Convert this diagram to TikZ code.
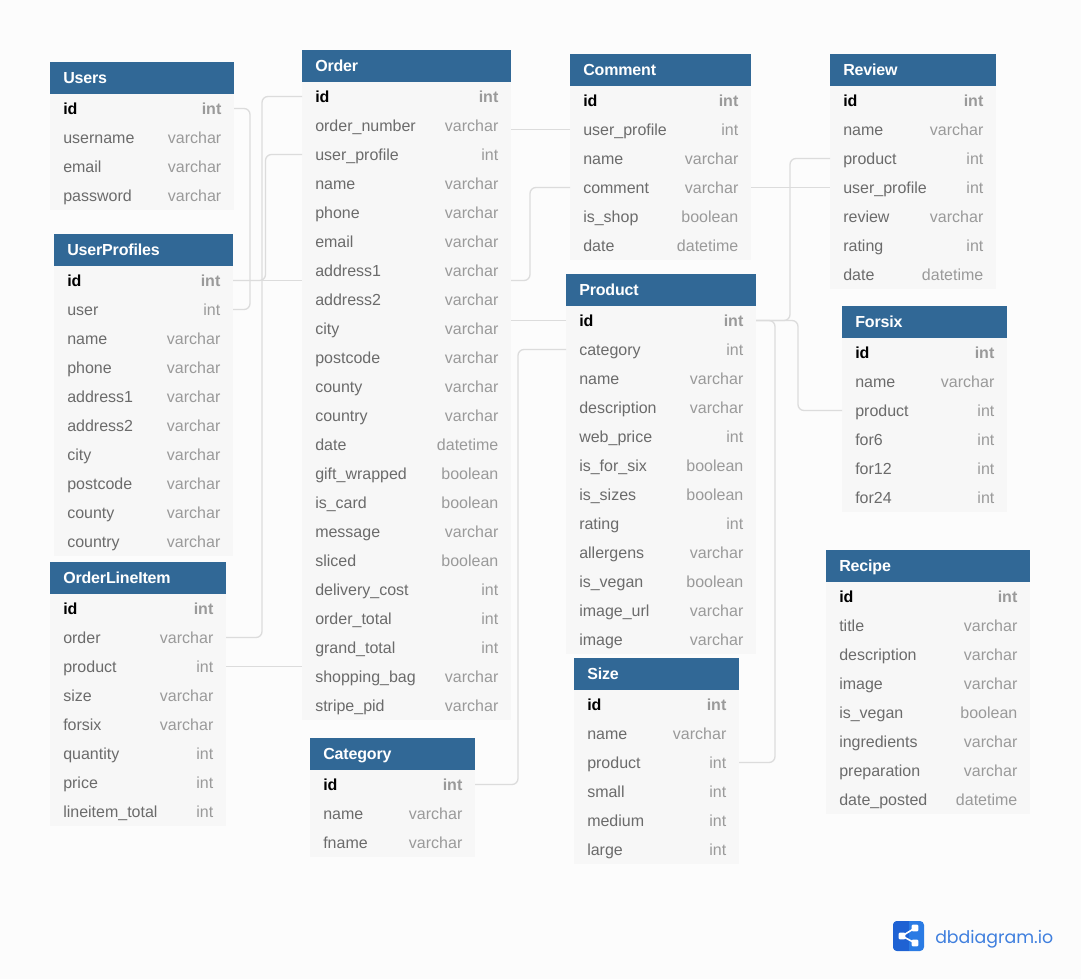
\documentclass[tikz,border=0pt]{standalone}
\usepackage{fontspec}
\setmainfont{Liberation Sans}
\newfontfamily\logofont{Poppins}
\newcommand{\dbsize}{\fontsize{12pt}{14pt}\selectfont}
\definecolor{pagebg}{HTML}{FCFCFC}
\definecolor{rowbg}{HTML}{F7F7F7}
\definecolor{headbg}{HTML}{316896}
\definecolor{connc}{HTML}{DCDCDC}
\definecolor{namec}{HTML}{6B6B6B}
\definecolor{typec}{HTML}{9A9A9A}
\definecolor{logod}{HTML}{1F62D3}
\definecolor{logol}{HTML}{2A7BE4}
\definecolor{logot}{HTML}{3F7FDE}
\tikzset{
  box/.style={inner sep=0pt,outer sep=0pt,draw=none,anchor=north west},
  headbox/.style={box,fill=headbg,minimum height=24pt},
  rowbox/.style={box,minimum height=21.75pt},
  titletext/.style={inner sep=0pt,anchor=base west,font=\dbsize\bfseries\addfontfeature{LetterSpace=-1},text=white},
  nametext/.style={inner sep=0pt,anchor=base west,text=namec,font=\dbsize},
  typetext/.style={inner sep=0pt,anchor=base east,text=typec,font=\dbsize},
  idtext/.style={inner sep=0pt,anchor=base west,text=black,font=\dbsize\bfseries},
  idtype/.style={inner sep=0pt,anchor=base east,text=typec,font=\dbsize\bfseries},
  conn/.style={draw=connc,line width=1pt,rounded corners=4.5pt},
  logonode/.style={inner sep=0pt,outer sep=0pt,fill=white,rounded corners=0.8pt,minimum size=5pt},
}
\newcommand{\dbtable}[6]{% name,x,y,w,title,rows
  \pgfmathsetmacro{\wpt}{#4*0.75}
  \node[headbox,minimum width=\wpt pt] (#1-head) at (#2,#3) {};
  \node[titletext] (#1-title) at (#2+13,#3+21.7) {#5};
  \foreach \n/\t [count=\i] in {#6}{
    \pgfmathsetmacro{\rowy}{#3+32+(\i-1)*29}
    \node[rowbox,minimum width=\wpt pt,fill=rowbg] (#1-\i) at (#2,\rowy) {};
  }
  \foreach \n/\t [count=\i] in {#6}{
    \pgfmathsetmacro{\rowy}{#3+32+(\i-1)*29}
    \ifnum\i=1
      \node[idtext] (#1-\i-n) at (#2+13,\rowy+20.3) {\n};
      \node[idtype] (#1-\i-t) at (#2+#4-12.4,\rowy+20.3) {\t};
    \else
      \node[nametext] (#1-\i-n) at (#2+13,\rowy+20.3) {\n};
      \node[typetext] (#1-\i-t) at (#2+#4-12.4,\rowy+20.3) {\t};
    \fi
  }
}
\begin{document}
\begin{tikzpicture}[x=0.75pt,y=-0.75pt]
\path[use as bounding box,fill=pagebg] (0,0) rectangle (1081,979);

\dbtable{Users}{50}{62}{184}{Users}{id/int,username/varchar,email/varchar,password/varchar}
\dbtable{UserProfiles}{54}{234}{179}{UserProfiles}{id/int,user/int,name/varchar,phone/varchar,address1/varchar,address2/varchar,city/varchar,postcode/varchar,county/varchar,country/varchar}
\dbtable{OrderLineItem}{50}{562}{176}{OrderLineItem}{id/int,order/varchar,product/int,size/varchar,forsix/varchar,quantity/int,price/int,lineitem\_total/int}
\dbtable{Order}{302}{50}{209}{Order}{id/int,order\_number/varchar,user\_profile/int,name/varchar,phone/varchar,email/varchar,address1/varchar,address2/varchar,city/varchar,postcode/varchar,county/varchar,country/varchar,date/datetime,gift\_wrapped/boolean,is\_card/boolean,message/varchar,sliced/boolean,delivery\_cost/int,order\_total/int,grand\_total/int,shopping\_bag/varchar,stripe\_pid/varchar}
\dbtable{Category}{310}{738}{165}{Category}{id/int,name/varchar,fname/varchar}
\dbtable{Comment}{570}{54}{181}{Comment}{id/int,user\_profile/int,name/varchar,comment/varchar,is\_shop/boolean,date/datetime}
\dbtable{Product}{566}{274}{190}{Product}{id/int,category/int,name/varchar,description/varchar,web\_price/int,is\_for\_six/boolean,is\_sizes/boolean,rating/int,allergens/varchar,is\_vegan/boolean,image\_url/varchar,image/varchar}
\dbtable{Size}{574}{658}{165}{Size}{id/int,name/varchar,product/int,small/int,medium/int,large/int}
\dbtable{Review}{830}{54}{166}{Review}{id/int,name/varchar,product/int,user\_profile/int,review/varchar,rating/int,date/datetime}
\dbtable{Forsix}{842}{306}{165}{Forsix}{id/int,name/varchar,product/int,for6/int,for12/int,for24/int}
\dbtable{Recipe}{826}{550}{204}{Recipe}{id/int,title/varchar,description/varchar,image/varchar,is\_vegan/boolean,ingredients/varchar,preparation/varchar,date\_posted/datetime}

% connectors
\draw[conn] (Users-1.east) -- ++(16,0) |- (UserProfiles-2.east);
\draw[conn] (UserProfiles-1.east) -- (UserProfiles-1.east -| Order-1.west);
\draw[conn] (UserProfiles-1.east) -- ++(32.5,0) |- (Order-3.west);
\draw[conn] (OrderLineItem-2.east) -- ++(36,0) |- (Order-1.west);
\draw[conn] (OrderLineItem-3.east) -- (OrderLineItem-3.east -| Order-1.west);
\draw[conn] (Comment-2.west) -- (Comment-2.west -| Order-1.east);
\draw[conn] (UserProfiles-1.east -| Order-1.east) -- ++(19,0) |- (Comment-4.west);
\draw[conn] (Product-1.west) -- (Product-1.west -| Order-1.east);
\draw[conn] (Category-1.east) -- ++(43,0) |- (Product-2.west);
\draw[conn] (Comment-4.east) -- (Review-4.west);
\draw[conn] (Product-1.east) -- ++(34,0) |- (Review-3.west);
\draw[conn] (Product-1.east) -- ++(42,0) |- (Forsix-3.west);
\draw[conn] (Product-1.east) -- ++(19,0) |- (Size-3.east);

% logo
\node[box,minimum width=23.25pt,minimum height=22.5pt,fill=logol,rounded corners=3pt] (logo) at (893,921) {};
\begin{scope}
\clip[rounded corners=3pt] (logo.north west) rectangle (logo.south east);
\fill[logod] (logo.north west) rectangle (908.5,951);
\end{scope}
\draw[white,line width=1.2pt] (915,928) -- (902,936) -- (915,943);
\node[logonode] (logoa) at (902,936) {};
\node[logonode] (logob) at (915,928) {};
\node[logonode] (logoc) at (915,943) {};
\node[inner sep=0pt,anchor=base west,text=logot,font=\logofont\fontsize{13pt}{16pt}\selectfont] (logotext) at (935,943) {dbdiagram.io};
\end{tikzpicture}
\end{document}
